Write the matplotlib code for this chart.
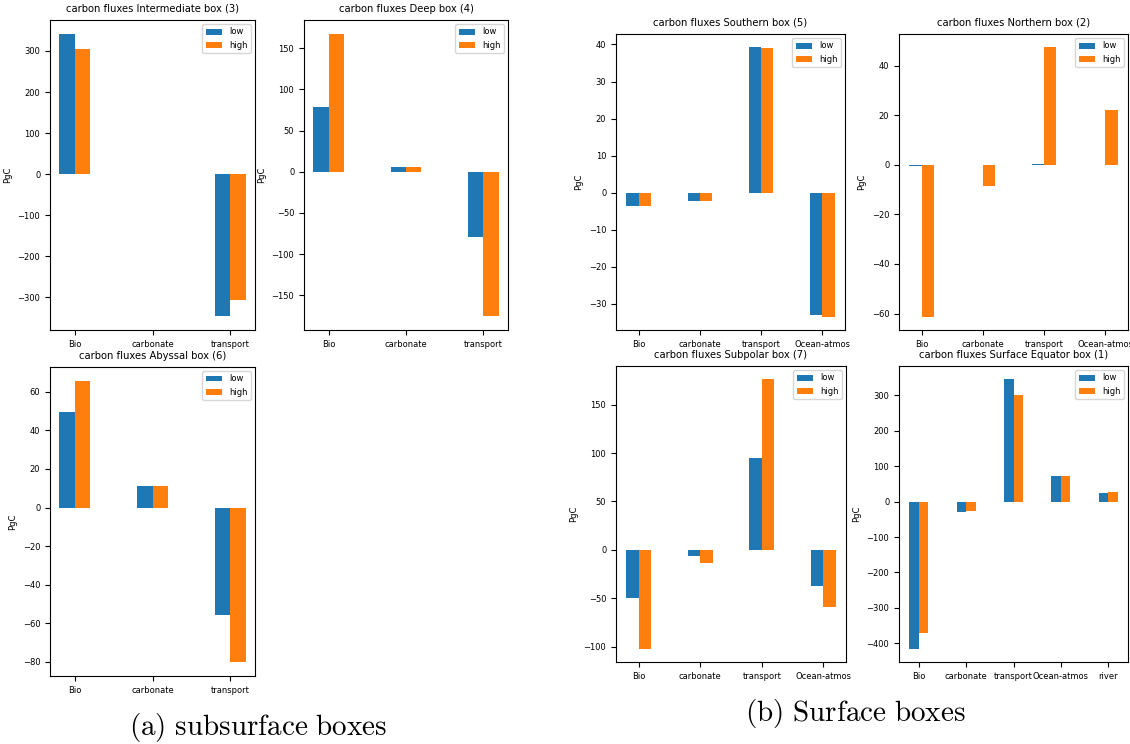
import numpy as np
import matplotlib
matplotlib.use("Agg")
import matplotlib.pyplot as plt

plt.rcParams['mathtext.fontset'] = 'cm'

cats3 = ['Bio', 'carbonate', 'transport']
cats4 = ['Bio', 'carbonate', 'transport', 'Ocean-atmos']
cats5 = ['Bio', 'carbonate', 'transport', 'Ocean-atmos', 'river']

inter_low = [341, 1.5, -345]
inter_high = [304, 1.5, -306]
deep_low = [79, 6, -79]
deep_high = [167, 6, -175]
abyss_low = [49.5, 11.3, -55.5]
abyss_high = [65.5, 11.3, -80]
south_low = [-3.6, -2.3, 39.2, -33.0]
south_high = [-3.6, -2.3, 39.0, -33.5]
north_low = [-0.5, 0.0, 0.3, 0.0]
north_high = [-61.2, -8.5, 47.3, 22.2]
subpol_low = [-50, -6.5, 95, -37]
subpol_high = [-102, -14, 176, -59]
equat_low = [-415, -28, 345, 73, 23]
equat_high = [-370, -26, 300, 71, 26]

W, H = 1130, 744
fig = plt.figure(figsize=(W / 100, H / 100), dpi=100)


def add_ax(x0, x1, y0, y1):
    return fig.add_axes([x0 / W, 1 - y1 / H, (x1 - x0) / W, (y1 - y0) / H])


def panel(ax, cats, low, high, title):
    x = np.arange(len(cats))
    ax.bar(x - 0.1, low, 0.2, color='#1f77b4', label='low')
    ax.bar(x + 0.1, high, 0.2, color='#ff7f0e', label='high')
    ax.set_xticks(x)
    ax.set_xticklabels(cats, fontsize=6)
    ax.tick_params(axis='y', labelsize=6)
    ax.set_ylabel('PgC', fontsize=6)
    ax.set_title(title, fontsize=7.2)
    ax.legend(loc='upper right', fontsize=6)


panel(add_ax(50, 255, 20, 330), cats3, inter_low, inter_high,
      'carbon fluxes Intermediate box (3)')
panel(add_ax(304, 508, 20, 330), cats3, deep_low, deep_high,
      'carbon fluxes Deep box (4)')
panel(add_ax(50, 255, 367, 676), cats3, abyss_low, abyss_high,
      'carbon fluxes Abyssal box (6)')
panel(add_ax(616, 845, 34, 330), cats4, south_low, south_high,
      'carbon fluxes Southern box (5)')
panel(add_ax(899, 1128, 34, 330), cats4, north_low, north_high,
      'carbon fluxes Northern box (2)')
panel(add_ax(616, 846, 366, 662), cats4, subpol_low, subpol_high,
      'carbon fluxes Subpolar box (7)')
panel(add_ax(899, 1128, 366, 662), cats5, equat_low, equat_high,
      'carbon fluxes Surface Equator box (1)')

fig.text(258 / W, 1 - 728 / H, r'$\mathrm{(a)\ subsurface\ boxes}$',
         ha='center', va='center', fontsize=21)
fig.text(855 / W, 1 - 713 / H, r'$\mathrm{(b)\ Surface\ boxes}$',
         ha='center', va='center', fontsize=21)

fig.savefig('out.png', dpi=100)
